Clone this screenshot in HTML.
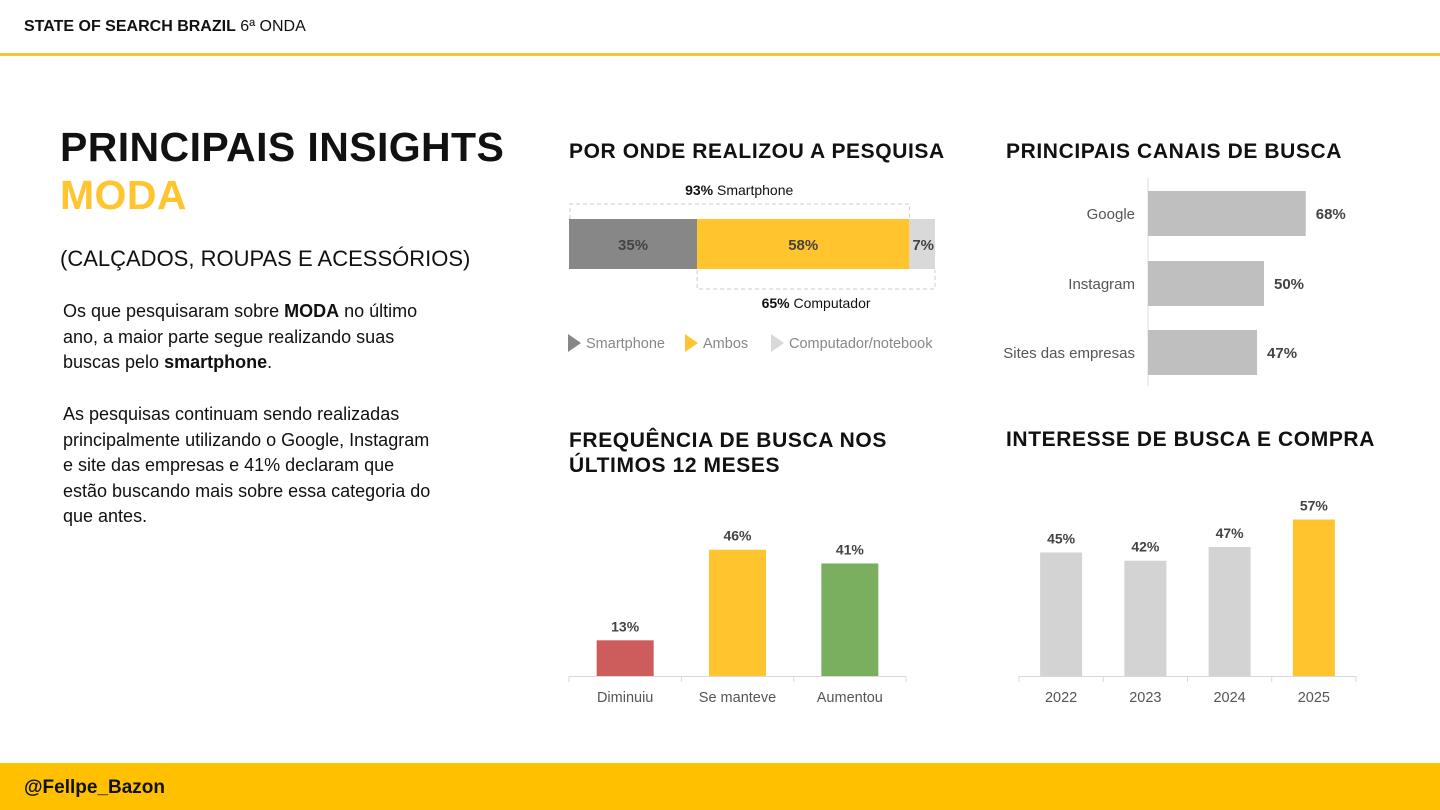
<!DOCTYPE html>
<html><head><meta charset="utf-8"><style>
body{margin:0;width:1440px;height:810px;position:relative;background:#fff;font-family:"Liberation Sans",sans-serif;overflow:hidden}
.a{position:absolute;margin:0}
.h{font-weight:bold;font-size:21px;color:#111;letter-spacing:0.6px}
.p{font-size:18px;line-height:25.6px;color:#111;white-space:nowrap}
svg text{font-family:"Liberation Sans",sans-serif}
</style></head><body>
<div class="a" style="left:24px;top:18px;font-size:16px;color:#111"><b>STATE OF SEARCH BRAZIL</b> 6ª ONDA</div>
<div class="a" style="left:0;top:53px;width:1440px;height:3px;background:#F8C440"></div>
<div class="a" style="left:60px;top:124px;font-size:41px;font-weight:bold;color:#111;letter-spacing:0.4px">PRINCIPAIS INSIGHTS</div>
<div class="a" style="left:60px;top:172px;font-size:41px;font-weight:bold;color:#FFC42E;letter-spacing:0.4px">MODA</div>
<div class="a" style="left:60px;top:246px;font-size:22px;color:#111">(CALÇADOS, ROUPAS E ACESSÓRIOS)</div>
<div class="a p" style="left:63px;top:299px">Os que pesquisaram sobre <b>MODA</b> no último<br>ano, a maior parte segue realizando suas<br>buscas pelo <b>smartphone</b>.</div>
<div class="a p" style="left:63px;top:402px">As pesquisas continuam sendo realizadas<br>principalmente utilizando o Google, Instagram<br>e site das empresas e 41% declaram que<br>estão buscando mais sobre essa categoria do<br>que antes.</div>
<div class="a h" style="left:569px;top:140px">POR ONDE REALIZOU A PESQUISA</div>
<div class="a h" style="left:1006px;top:140px">PRINCIPAIS CANAIS DE BUSCA</div>
<div class="a h" style="left:569px;top:428px;line-height:25px">FREQUÊNCIA DE BUSCA NOS<br>ÚLTIMOS 12 MESES</div>
<div class="a h" style="left:1006px;top:428px">INTERESSE DE BUSCA E COMPRA</div>
<div class="a" style="left:0;top:763px;width:1440px;height:47px;background:#FFC000"></div>
<div class="a" style="left:24px;top:777px;font-size:19px;font-weight:bold;color:#111">@Fellpe_Bazon</div>
<svg id="s" class="a" style="left:0;top:0" width="1440" height="810"></svg>
<script>
const devCats=["Smartphone","Ambos","Computador/notebook"];
const devVals=[35,58,7];
const chanCats=["Google","Instagram","Sites das empresas"];
const chanVals=[68,50,47];
const freqCats=["Diminuiu","Se manteve","Aumentou"];
const freqVals=[13,46,41];
const intCats=["2022","2023","2024","2025"];
const intVals=[45,42,47,57];
const NS="http://www.w3.org/2000/svg",S=document.getElementById('s');
function el(t,a,txt){const e=document.createElementNS(NS,t);for(const k in a)e.setAttribute(k,a[k]);if(txt!==undefined)e.textContent=txt;S.appendChild(e);return e;}
const dx=v=>569+v*3.66;const devCol=["#878787","#FFC42E","#D9D9D9"];let c=0;
devVals.forEach((v,i)=>{const r=el('rect',{x:dx(c),y:219,width:v*3.66,height:50,fill:devCol[i]});


const t=el('text',{x:i==2?dx(c)+v*3.66/2+1:dx(c)+v*3.66/2,y:250,'text-anchor':'middle','font-size':15,'font-weight':'bold',fill:'#444'},v+'%');


c+=v;});
const sm=devVals[0]+devVals[1],cp=devVals[1]+devVals[2];
el('path',{d:`M570 219V204H${dx(sm)}V219`,fill:'none',stroke:'#ccc','stroke-dasharray':'4 3'});
el('path',{d:`M${dx(devVals[0])} 270V289H${dx(100)}V270`,fill:'none',stroke:'#ccc','stroke-dasharray':'4 3'});
el('text',{x:dx(sm/2),y:195,'text-anchor':'middle','font-size':14,fill:'#111'}).innerHTML=`<tspan font-weight="bold">${sm}%</tspan> Smartphone`;
el('text',{x:dx(devVals[0]+cp/2),y:308,'text-anchor':'middle','font-size':14,fill:'#111'}).innerHTML=`<tspan font-weight="bold">${cp}%</tspan> Computador`;
const lx=[568,685,771];
devCats.forEach((n,i)=>{const p=el('path',{d:`M${lx[i]} 334l13 9l-13 9z`,fill:devCol[i]});


const t=el('text',{x:lx[i]+18,y:348,'font-size':14.5,fill:'#888'},n);

});
el('line',{x1:1148,y1:178,x2:1148,y2:386,stroke:'#ddd'});
const cy=[191,261,330];
chanVals.forEach((v,i)=>{const w=v*2.32;const r=el('rect',{x:1148,y:cy[i],width:w,height:45,fill:'#BFBFBF'});


el('text',{x:1148+w+10,y:cy[i]+28,'font-size':15,'font-weight':'bold',fill:'#444'},v+'%');
el('text',{x:1135,y:cy[i]+28,'text-anchor':'end','font-size':15,fill:'#555'},chanCats[i]);});
function vbar(cats,vals,x0,x1,bw,cols,name){const base=676,k=2.745,cw=(x1-x0)/cats.length;
el('line',{x1:x0,y1:base+.5,x2:x1,y2:base+.5,stroke:'#d9d9d9'});
for(let i=0;i<=cats.length;i++)el('line',{x1:x0+i*cw,y1:base,x2:x0+i*cw,y2:base+6,stroke:'#d9d9d9'});
vals.forEach((v,i)=>{const cx=x0+cw*(i+.5),h=v*k;const r=el('rect',{x:cx-bw/2,y:base-h,width:bw,height:h,fill:cols[i]});


el('text',{x:cx,y:base-h-9,'text-anchor':'middle','font-size':14,'font-weight':'bold',fill:'#444'},v+'%');
el('text',{x:cx,y:702,'text-anchor':'middle','font-size':14.5,fill:'#555'},cats[i]);});}
vbar(freqCats,freqVals,569,906,57,["#CD5C5C","#FFC42E","#7BAF60"],'frequency');
vbar(intCats,intVals,1019,1356,42,["#D3D3D3","#D3D3D3","#D3D3D3","#FFC42E"],'interest');
</script>
</body></html>
